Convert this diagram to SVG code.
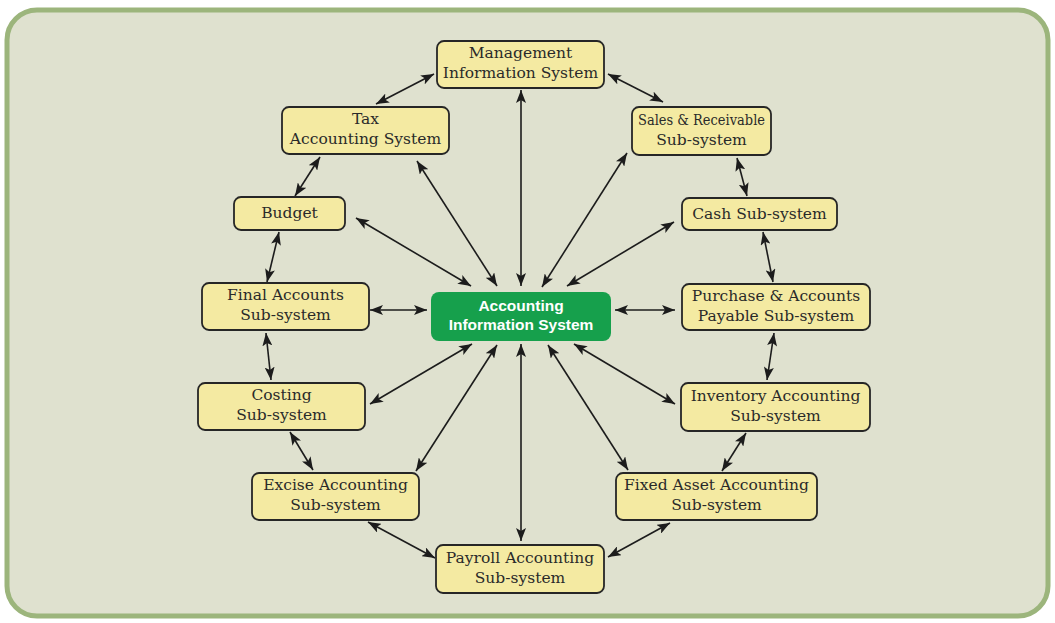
<svg xmlns="http://www.w3.org/2000/svg" width="1055" height="623" viewBox="0 0 1055 623">
<defs>
<style>
.bg{fill:#dfe1cf;stroke:#9cb57c;stroke-width:5}
.box{fill:#f4eaa2;stroke:#262626;stroke-width:1.8}
.lbl{font-family:"DejaVu Serif","Liberation Serif",serif;font-size:15.5px;fill:#2a2a2a;text-anchor:middle}
.main{fill:#16a04c}
.mlbl{font-family:"Liberation Sans","DejaVu Sans",sans-serif;font-weight:bold;font-size:15.5px;fill:#ffffff;text-anchor:middle}
.c{stroke:#1c1c1c;stroke-width:1.6;fill:none;marker-start:url(#ah);marker-end:url(#ah)}
</style>
<marker id="ah" viewBox="0 0 13 10" refX="13" refY="5" markerWidth="13" markerHeight="10" markerUnits="userSpaceOnUse" orient="auto-start-reverse">
<path d="M0,0 L13,5 L0,10 L3,5 z" fill="#1c1c1c"/>
</marker>
</defs>
<rect x="0" y="0" width="1055" height="623" fill="#ffffff"/>
<rect class="bg" x="7" y="10" width="1041" height="606" rx="30" ry="30"/>

<g id="connectors">
<line class="c" x1="434" y1="74" x2="376" y2="104"/>
<line class="c" x1="608" y1="74" x2="663" y2="102"/>
<line class="c" x1="521" y1="90" x2="521" y2="286"/>
<line class="c" x1="320" y1="157" x2="295" y2="196"/>
<line class="c" x1="417" y1="161" x2="497" y2="286"/>
<line class="c" x1="737" y1="158" x2="747" y2="196"/>
<line class="c" x1="627" y1="153" x2="542" y2="287"/>
<line class="c" x1="356" y1="218" x2="471" y2="286"/>
<line class="c" x1="674" y1="222" x2="567" y2="286"/>
<line class="c" x1="279" y1="232" x2="267" y2="282"/>
<line class="c" x1="763" y1="232" x2="773" y2="282"/>
<line class="c" x1="370" y1="310" x2="427" y2="310"/>
<line class="c" x1="615" y1="310" x2="675" y2="310"/>
<line class="c" x1="266" y1="333" x2="271" y2="380"/>
<line class="c" x1="774" y1="333" x2="767" y2="380"/>
<line class="c" x1="370" y1="404" x2="472" y2="344"/>
<line class="c" x1="675" y1="404" x2="574" y2="344"/>
<line class="c" x1="290" y1="432" x2="313" y2="470"/>
<line class="c" x1="746" y1="433" x2="722" y2="471"/>
<line class="c" x1="416" y1="471" x2="497" y2="345"/>
<line class="c" x1="628" y1="470" x2="548" y2="345"/>
<line class="c" x1="521" y1="344" x2="521" y2="541"/>
<line class="c" x1="368" y1="522" x2="435" y2="558"/>
<line class="c" x1="670" y1="523" x2="608" y2="557"/>
</g>

<g id="mis">
<rect class="box" x="437" y="41" width="167" height="47" rx="7"/>
<text class="lbl" x="520.5" y="58">Management</text>
<text class="lbl" x="520.5" y="78">Information System</text>
</g>
<g id="tax">
<rect class="box" x="282" y="107" width="167" height="47" rx="7"/>
<text class="lbl" x="365.5" y="124">Tax</text>
<text class="lbl" x="365.5" y="144">Accounting System</text>
</g>
<g id="sales">
<rect class="box" x="632" y="107" width="139" height="48" rx="7"/>
<text class="lbl" x="701.5" y="124.5" textLength="127" lengthAdjust="spacingAndGlyphs">Sales &amp; Receivable</text>
<text class="lbl" x="701.5" y="144.5">Sub-system</text>
</g>
<g id="budget">
<rect class="box" x="234" y="197" width="111" height="33" rx="7"/>
<text class="lbl" x="289.5" y="218">Budget</text>
</g>
<g id="cash">
<rect class="box" x="682" y="198" width="155" height="32" rx="7"/>
<text class="lbl" x="759.5" y="219">Cash Sub-system</text>
</g>
<g id="final">
<rect class="box" x="202" y="283" width="167" height="47" rx="7"/>
<text class="lbl" x="285.5" y="300">Final Accounts</text>
<text class="lbl" x="285.5" y="320">Sub-system</text>
</g>
<g id="ais">
<rect class="main" x="431" y="292" width="180" height="49" rx="8"/>
<text class="mlbl" x="521" y="311">Accounting</text>
<text class="mlbl" x="521" y="330">Information System</text>
</g>
<g id="purchase">
<rect class="box" x="682" y="284" width="188" height="46" rx="7"/>
<text class="lbl" x="776" y="300.5">Purchase &amp; Accounts</text>
<text class="lbl" x="776" y="320.5">Payable Sub-system</text>
</g>
<g id="costing">
<rect class="box" x="198" y="383" width="167" height="47" rx="7"/>
<text class="lbl" x="281.5" y="400">Costing</text>
<text class="lbl" x="281.5" y="420">Sub-system</text>
</g>
<g id="inventory">
<rect class="box" x="681" y="383" width="189" height="48" rx="7"/>
<text class="lbl" x="775.5" y="400.5">Inventory Accounting</text>
<text class="lbl" x="775.5" y="420.5">Sub-system</text>
</g>
<g id="excise">
<rect class="box" x="252" y="473" width="167" height="47" rx="7"/>
<text class="lbl" x="335.5" y="490">Excise Accounting</text>
<text class="lbl" x="335.5" y="510">Sub-system</text>
</g>
<g id="fixed">
<rect class="box" x="616" y="473" width="201" height="47" rx="7"/>
<text class="lbl" x="716.5" y="490">Fixed Asset Accounting</text>
<text class="lbl" x="716.5" y="510">Sub-system</text>
</g>
<g id="payroll">
<rect class="box" x="436" y="545" width="168" height="48" rx="7"/>
<text class="lbl" x="520" y="562.5">Payroll Accounting</text>
<text class="lbl" x="520" y="582.5">Sub-system</text>
</g>
</svg>
